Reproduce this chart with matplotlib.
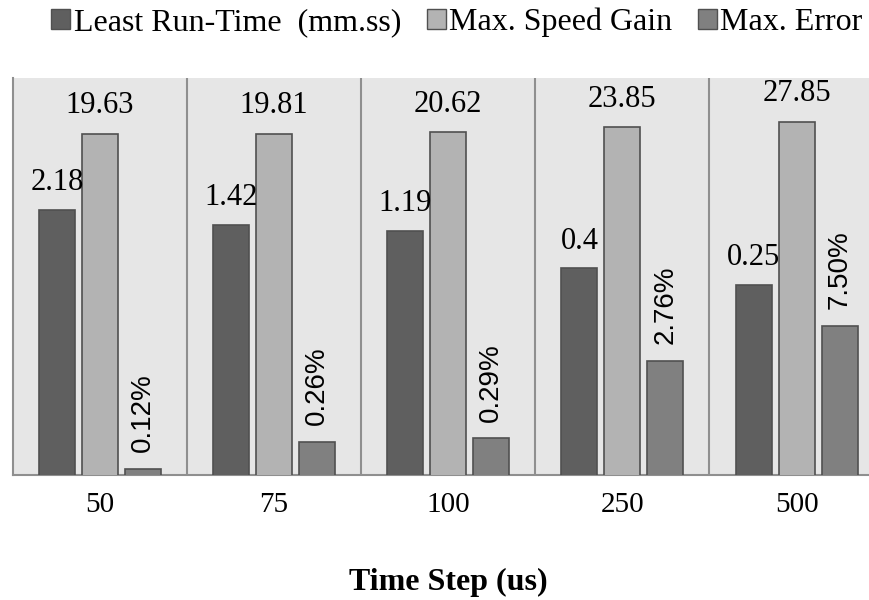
import matplotlib
matplotlib.use("Agg")
import matplotlib.pyplot as plt
from matplotlib.patches import Patch
import numpy as np

# Data
time_steps = ["50", "75", "100", "250", "500"]
run_time = [2.18, 1.42, 1.19, 0.4, 0.25]          # mm.ss
run_time_labels = ["2.18", "1.42", "1.19", "0.4", "0.25"]
speed_gain = [19.63, 19.81, 20.62, 23.85, 27.85]
max_error_pct = [0.12, 0.26, 0.29, 2.76, 7.50]     # percent
series_names = ["Least Run-Time  (mm.ss)", "Max. Speed Gain", "Max. Error"]

dark = "#5f5f5f"
light = "#b3b3b3"
mid = "#808080"
edge = "#505050"
bg = "#e6e6e6"
grid_c = "#8f8f8f"

serif = "Liberation Serif"
sans = "Liberation Sans"

fig = plt.figure(figsize=(8.7, 6.0), dpi=100)
# axes extends a little past the right border of the figure
ax = fig.add_axes([13 / 870, 125 / 600, (883.6 - 13) / 870, (475 - 78) / 600])
ax.set_facecolor(bg)

x = np.arange(len(time_steps))
w = 0.207
off = 0.247

err_frac = [v / 100.0 for v in max_error_pct]

ax.bar(x - off, run_time, w, color=dark, edgecolor=edge, linewidth=1.2, zorder=3)
ax.bar(x, speed_gain, w, color=light, edgecolor=edge, linewidth=1.2, zorder=3)
ax.bar(x + off, err_frac, w, color=mid, edgecolor=edge, linewidth=1.2, zorder=3)

ax.set_yscale("log")
ax.set_ylim(0.001, 100)
ax.set_xlim(-0.5, len(time_steps) - 0.5)

# category separators
for s in np.arange(0.5, len(time_steps) - 0.5, 1.0):
    ax.axvline(s, color=grid_c, lw=1.5, zorder=2)

for side in ["top", "right"]:
    ax.spines[side].set_visible(False)
ax.spines["left"].set_color(grid_c)
ax.spines["left"].set_linewidth(1.5)
ax.spines["bottom"].set_color(grid_c)
ax.spines["bottom"].set_linewidth(1.5)

ax.set_yticks([])
ax.yaxis.set_minor_locator(matplotlib.ticker.NullLocator())
ax.set_xticks(x)
ax.set_xticklabels(time_steps, fontfamily=serif, fontsize=21)
ax.tick_params(axis="x", length=0, pad=12)
ax.set_xlabel("Time Step (us)", fontfamily=serif, fontsize=23, fontweight="bold", labelpad=36)

# value labels
for xi, v, lab in zip(x - off, run_time, run_time_labels):
    ax.annotate(lab, (xi, v), xytext=(0, 9), textcoords="offset points",
                ha="center", va="bottom", fontfamily=serif, fontsize=22, zorder=4)
for xi, v in zip(x, speed_gain):
    ax.annotate(f"{v:.2f}", (xi, v), xytext=(0, 10), textcoords="offset points",
                ha="center", va="bottom", fontfamily=serif, fontsize=22, zorder=4)
for xi, v, p in zip(x + off, err_frac, max_error_pct):
    ax.annotate(f"{p:.2f}%", (xi, v), xytext=(0, 12), textcoords="offset points",
                ha="center", va="bottom", rotation=90, fontfamily=sans, fontsize=20, zorder=4)

handles = [Patch(facecolor=c, edgecolor=edge, linewidth=1.0) for c in (dark, light, mid)]
fig.legend(handles, series_names, loc="upper center", bbox_to_anchor=(0.525, 1.035),
           ncol=3, frameon=False, prop={"family": serif, "size": 23},
           handlelength=0.6, handleheight=0.6, handletextpad=0.1, columnspacing=0.8)

fig.savefig("out.png", dpi=100)
